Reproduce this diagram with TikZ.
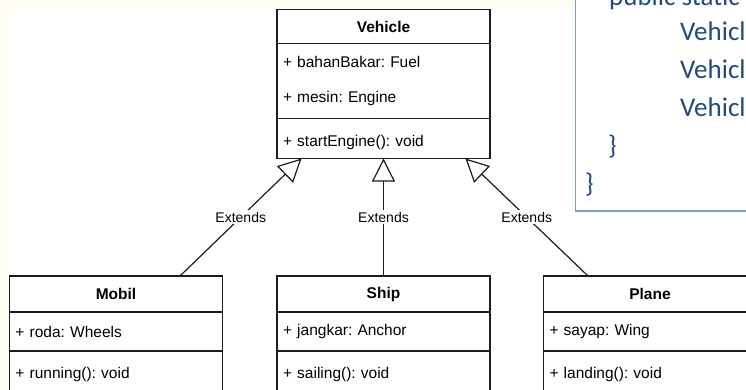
\documentclass[tikz,border=0pt]{standalone}
\usepackage{fontspec}
\setmainfont{Liberation Sans}
\newfontfamily\codefont{Carlito}
\usetikzlibrary{arrows.meta,positioning}
\definecolor{cream}{RGB}{255,252,243}
\definecolor{codeblue}{RGB}{33,75,128}
\definecolor{codeframe}{RGB}{128,155,192}
\definecolor{umlline}{RGB}{28,28,28}

\begin{document}
\frenchspacing
\begin{tikzpicture}[x=1pt,y=-1pt,line join=miter,
  classhead/.style={draw=umlline,line width=1.3pt,minimum width=213pt,inner sep=0pt,outer sep=0pt,font=\fontsize{15.5}{18}\selectfont\bfseries},
  classpart/.style={draw=umlline,line width=1.3pt,minimum width=213pt,text width=201pt,align=left,inner xsep=6pt,inner ysep=0pt,outer sep=0pt,font=\fontsize{15.5}{35}\selectfont},
  methpart/.style={classpart,minimum height=40pt,text height=18pt,text depth=2.6pt},
  extends/.style={draw=umlline,line width=1.2pt,-{Triangle[length=23pt,width=23pt,fill=white]}},
  extlabel/.style={fill=white,inner sep=2pt,font=\fontsize{14}{16}\selectfont},
  codeline/.style={anchor=base west,inner sep=0pt,text=codeblue,font=\codefont\fontsize{27}{32}\selectfont}]
\useasboundingbox (0,0) rectangle (746,390);
\clip (0,0) rectangle (746,390);
\fill[cream] (0,0) rectangle (746,390);
\fill[white] (8.3,8.3) rectangle (746,390);

% code snippet in the corner
\draw[codeframe,line width=1.5pt,fill=white] (575.5,-20) rectangle (770,211);
\node[codeline] (codemain) at (609,6) {public static};
\node[codeline] (codecar) at (680,40.8) {Vehicl};
\node[codeline] (codeship) at (680,78.6) {Vehicl};
\node[codeline] (codeplane) at (680,116.4) {Vehicl};
\node[codeline] (codeclose) at (608,154.2) {\}};
\node[codeline] (codeend) at (585,192) {\}};

% parent class
\node[classhead,minimum height=34pt] (vehicle) at (383.5,26.5) {Vehicle};
\node[classpart,minimum height=75pt,below=0pt of vehicle] (vehicleattr) {+ bahanBakar: Fuel\\+ mesin: Engine};
\node[methpart,below=0pt of vehicleattr] (vehiclemeth) {+ startEngine(): void};

% child classes
\node[classhead,minimum height=36pt] (mobil) at (116,294) {Mobil};
\node[classpart,minimum height=39pt,below=0pt of mobil] (mobilattr) {+ roda: Wheels};
\node[methpart,below=0pt of mobilattr] (mobilmeth) {+ running(): void};

\node[classhead,minimum height=36pt] (ship) at (383.5,294) {Ship};
\node[classpart,minimum height=39pt,below=0pt of ship] (shipattr) {+ jangkar: Anchor};
\node[methpart,below=0pt of shipattr] (shipmeth) {+ sailing(): void};

\node[classhead,minimum height=36pt] (plane) at (650,294) {Plane};
\node[classpart,minimum height=39pt,below=0pt of plane] (planeattr) {+ sayap: Wing};
\node[methpart,below=0pt of planeattr] (planemeth) {+ landing(): void};

% inheritance
\draw[extends] ([xshift=64pt]mobil.north) -- node[extlabel] (extmobil) {Extends} ([xshift=-82pt]vehiclemeth.south);
\draw[extends] (ship.north) -- node[extlabel] (extship) {Extends} (vehiclemeth.south);
\draw[extends] ([xshift=-62pt]plane.north) -- node[extlabel] (extplane) {Extends} ([xshift=82pt]vehiclemeth.south);
\end{tikzpicture}
\end{document}
